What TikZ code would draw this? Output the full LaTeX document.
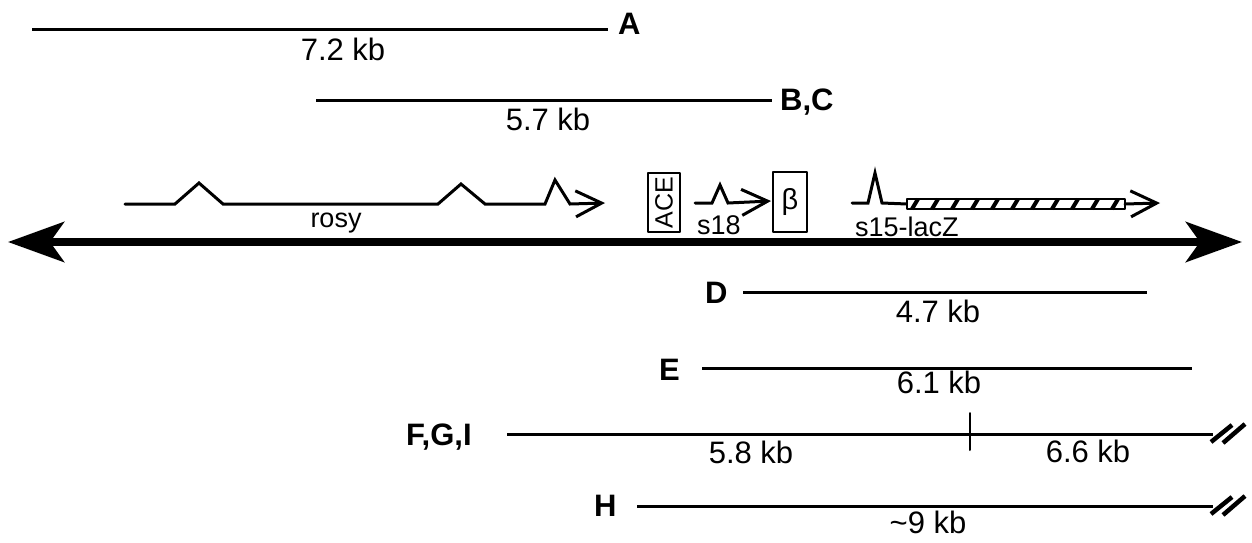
\documentclass[tikz,border=0pt]{standalone}
\usepackage{fontspec}
\setmainfont{Liberation Sans}
\usetikzlibrary{arrows.meta,calc}

\tikzset{
  fragment/.style={line width=3pt, line cap=butt},
  gene/.style={line width=3pt, line join=miter, -{Straight Barb[length=26pt,width=26pt,line join=miter]}},
  chrom/.style={line width=8pt, line cap=butt, {Stealth[length=56pt,width=40pt,inset=14pt]}-{Stealth[length=56pt,width=40pt,inset=14pt]}},
  slash/.style={line width=4.5pt, line cap=butt},
  kb/.style={font=\fontsize{31}{36}\selectfont, inner sep=0pt, anchor=base},
  clone/.style={font=\fontsize{31}{36}\selectfont\bfseries, inner sep=0pt, anchor=base west},
  genename/.style={font=\fontsize{27}{32}\selectfont, inner sep=0pt, anchor=base west},
  genebox/.style={draw, line width=2pt, inner sep=0pt}
}

\begin{document}
\begin{tikzpicture}[x=1pt, y=-1pt, line join=round, line cap=round]
\useasboundingbox (0,0) rectangle (1252,543);

% clones above the map
\path (32,30) coordinate (a1) (608,30) coordinate (a2)
      (316,100) coordinate (bc1) (772,100) coordinate (bc2);
\draw[fragment] (a1) -- (a2);
\draw[fragment] (bc1) -- (bc2);
\node[clone] (labA) at (618,35) {A};
\node[kb] (kbA) at (343,60) {7.2 kb};
\node[clone] (labBC) at (780,110) {B,C};
\node[kb] (kbBC) at (548,130) {5.7 kb};

% genomic map
\path (8,242) coordinate (mapL) (1242,242) coordinate (mapR);
\draw[chrom] (mapL) -- (mapR);

% rosy
\path (125,204) coordinate (ry1) (605,203) coordinate (ry2);
\draw[gene] (ry1) -- (175,204) -- (199,183) -- (223,204) -- (438,204) -- (461,184)
  -- (485,204) -- (545,204) -- (555,180) -- (570,204) -- (ry2);
\node[genename, anchor=base] (rosy) at (336,227) {rosy};

% ACE, s18, beta
\node[genebox, rotate=90, minimum width=59pt, minimum height=32pt,
  font=\fontsize{25}{30}\selectfont] (ace) at (664,202.5) {ACE};
\node[genebox, minimum width=34pt, minimum height=60pt,
  font=\fontsize{29}{34}\selectfont] (beta) at (790,202) {β};
\path (695,203) coordinate (s18a) (771,201) coordinate (s18b);
\draw[gene] (s18a) -- (712,203) -- (720,185) -- (728,203) -- (s18b);
\node[genename] (s18) at (697,234) {s18};

% s15-lacZ
\path (852,203) coordinate (s15a) (907,204) coordinate (lz1)
      (1125,204) coordinate (lz2) (1160,203) coordinate (s15b);
\draw[line width=3pt, line join=miter] (s15a) -- (868,203) -- (875,173) -- (882,203) -- (lz1);
\draw[line width=2.5pt, fill=white] ($(lz1)+(0,-5)$) rectangle ($(lz2)+(0,5)$);
\foreach \i in {0,...,10}{\draw[line width=4pt, line cap=butt] (912+\i*20,209) -- ++(6,-10);}
\draw[gene] (lz2) -- (s15b);
\node[genename] (s15) at (855,236) {s15-lacZ};

% clones below the map
\path (743,292) coordinate (d1) (1147,292) coordinate (d2)
      (702,368) coordinate (e1) (1192,368) coordinate (e2)
      (507,434) coordinate (f1) (1213,434) coordinate (f2)
      (970,413) coordinate (tk1) (970,450) coordinate (tk2)
      (637,506) coordinate (h1) (1213,506) coordinate (h2);
\draw[fragment] (d1) -- (d2);
\draw[fragment] (e1) -- (e2);
\draw[fragment] (f1) -- (f2);
\draw[line width=2pt] (tk1) -- (tk2);
\draw[fragment] (h1) -- (h2);
\foreach \e in {f2,h2}{
  \draw[slash] ($(\e)+(-2,8)$) -- ++(21,-17);
  \draw[slash] ($(\e)+(10,9)$) -- ++(22,-19);
}
\node[clone] (labD) at (705,303) {D};
\node[kb] (kbD) at (938,322) {4.7 kb};
\node[clone] (labE) at (659,380) {E};
\node[kb] (kbE) at (939,393) {6.1 kb};
\node[clone] (labF) at (406,445) {F,G,I};
\node[kb] (kbF) at (751,463) {5.8 kb};
\node[kb] (kbG) at (1088,462) {6.6 kb};
\node[clone] (labH) at (594,516) {H};
\node[kb] (kbH) at (928,533) {\textasciitilde9 kb};
\end{tikzpicture}
\end{document}
